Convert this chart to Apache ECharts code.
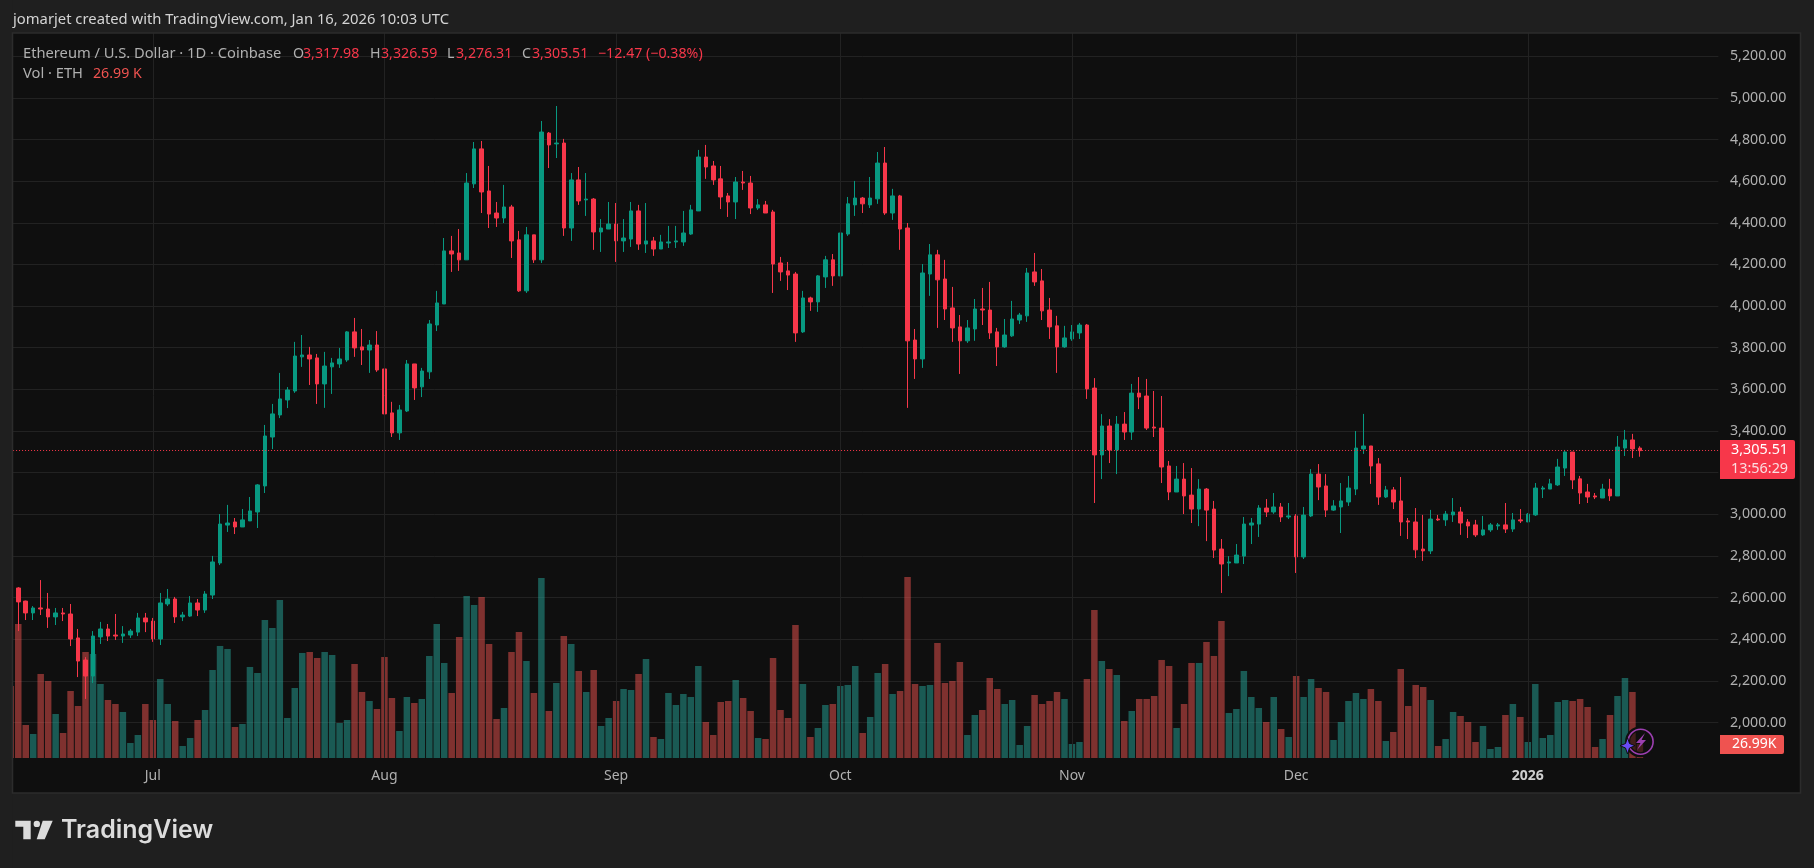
<!DOCTYPE html>
<html><head><meta charset="utf-8">
<style>html,body{margin:0;padding:0;background:#1f1f1f;overflow:hidden}#c{width:1814px;height:868px}</style>
<script src="https://cdn.jsdelivr.net/npm/echarts@6/dist/echarts.min.js"></script>
</head><body><div id="c"></div>
<script>
// [open, close, low, high] in USD, one row per day from 2025-06-12
const candles = [
[2776,2641,2630,2785],[2646,2579,2439,2650],[2583,2526,2492,2585],[2526,2550,2492,2559],[2550,2545,2516,2684],[2545,2507,2454,2622],[2507,2526,2468,2550],[2526,2521,2487,2550],[2521,2401,2367,2569],[2406,2295,2218,2449],
[2300,2223,2113,2314],[2223,2415,2190,2439],[2411,2449,2377,2483],[2449,2415,2391,2473],[2420,2415,2396,2521],[2415,2425,2382,2463],[2420,2439,2406,2449],[2434,2502,2415,2526],[2502,2483,2434,2526],[2487,2401,2387,2502],
[2401,2574,2372,2622],[2569,2593,2559,2641],[2593,2507,2478,2603],[2507,2516,2487,2531],[2511,2574,2507,2607],[2574,2540,2511,2593],[2540,2617,2526,2631],[2612,2771,2593,2800],[2766,2953,2756,3001],[2948,2958,2915,3045],
[2963,2939,2905,2982],[2939,2973,2939,3025],[2968,3016,2968,3083],[3011,3141,2934,3145],[3136,3376,3102,3429],[3371,3482,3313,3530],[3477,3554,3462,3679],[3549,3597,3510,3611],[3592,3760,3583,3828],[3756,3765,3708,3861],
[3765,3746,3621,3804],[3751,3626,3530,3770],[3626,3712,3511,3780],[3708,3727,3578,3751],[3722,3746,3703,3799],[3741,3876,3732,3880],[3876,3799,3756,3943],[3804,3789,3717,3890],[3789,3813,3679,3837],[3813,3693,3684,3880],
[3698,3482,3434,3727],[3487,3391,3371,3540],[3391,3501,3357,3525],[3496,3722,3491,3741],[3722,3607,3549,3722],[3612,3688,3563,3703],[3684,3914,3650,3933],[3909,4015,3880,4073],[4010,4265,4010,4327],[4265,4250,4164,4337],
[4255,4222,4169,4370],[4222,4591,4222,4639],[4587,4755,4567,4788],[4755,4548,4447,4793],[4553,4442,4375,4673],[4447,4423,4380,4500],[4423,4476,4399,4582],[4476,4313,4231,4486],[4318,4073,4068,4361],[4073,4342,4063,4380],
[4342,4222,4207,4342],[4222,4836,4207,4889],[4831,4774,4663,4836],[4779,4783,4711,4961],[4783,4375,4337,4803],[4375,4606,4313,4639],[4606,4505,4486,4668],[4510,4514,4433,4639],[4514,4356,4270,4519],[4356,4375,4260,4418],
[4370,4394,4370,4500],[4394,4313,4212,4495],[4313,4327,4260,4418],[4322,4457,4284,4500],[4457,4298,4270,4486],[4298,4313,4255,4495],[4313,4274,4241,4332],[4274,4308,4274,4342],[4303,4308,4279,4385],[4308,4313,4279,4385],
[4308,4351,4289,4457],[4346,4462,4342,4486],[4457,4716,4457,4750],[4716,4668,4611,4774],[4673,4606,4582,4697],[4611,4524,4466,4673],[4529,4500,4428,4543],[4500,4596,4418,4620],[4596,4591,4558,4649],[4591,4471,4442,4625],
[4471,4486,4462,4514],[4486,4447,4447,4505],[4452,4202,4063,4462],[4207,4164,4121,4236],[4169,4149,4077,4212],[4154,3871,3828,4164],[3876,4039,3871,4073],[4039,4020,3977,4045],[4020,4145,3972,4149],[4140,4222,4087,4241],
[4222,4145,4097,4250],[4145,4351,4126,4361],[4346,4491,4337,4524],[4486,4519,4433,4601],[4519,4491,4447,4524],[4486,4519,4471,4620],[4515,4687,4491,4740],[4687,4447,4438,4764],[4447,4529,4414,4563],[4529,4370,4270,4534],
[4375,3833,3511,4399],[3837,3746,3650,3890],[3746,4159,3703,4202],[4154,4246,4049,4298],[4246,4126,3895,4270],[4130,3986,3933,4222],[3991,3895,3828,4092],[3900,3833,3674,3957],[3833,3895,3823,3933],[3890,3986,3833,4034],
[3986,3981,3909,4087],[3981,3871,3842,4116],[3876,3804,3712,3895],[3804,3861,3799,3938],[3857,3938,3852,4025],[3933,3957,3914,3967],[3953,4159,3924,4183],[4164,4116,4097,4255],[4121,3977,3933,4178],[3981,3900,3842,4039],
[3905,3804,3679,3953],[3804,3847,3799,3905],[3842,3876,3833,3909],[3871,3909,3842,3919],[3909,3602,3554,3914],[3606,3285,3054,3654],[3285,3424,3169,3481],[3424,3309,3246,3457],[3309,3433,3193,3472],[3433,3395,3357,3491],
[3395,3582,3357,3626],[3582,3563,3505,3659],[3568,3414,3405,3650],[3419,3414,3371,3592],[3414,3227,3150,3568],[3232,3107,3068,3256],[3107,3169,3107,3232],[3169,3088,3001,3246],[3092,3025,2958,3222],[3025,3121,2943,3169],
[3121,3020,2871,3126],[3025,2828,2790,3064],[2833,2761,2622,2881],[2766,2771,2703,2799],[2766,2804,2766,2857],[2799,2953,2761,2987],[2948,2958,2857,2982],[2953,3030,2891,3044],[3030,3011,2987,3073],[3011,3035,3002,3102],
[3035,2987,2963,3054],[2987,2992,2977,3054],[2992,2795,2718,3001],[2795,2996,2785,3035],[2992,3193,2987,3217],[3193,3131,3068,3241],[3136,3020,2987,3193],[3020,3040,3016,3068],[3035,3064,2910,3150],[3059,3126,3040,3184],
[3121,3318,3092,3400],[3314,3328,3290,3482],[3328,3232,3146,3328],[3242,3083,3045,3270],[3083,3117,3078,3136],[3117,3059,3025,3131],[3064,2963,2896,3179],[2968,2963,2881,2982],[2963,2829,2790,3030],[2833,2824,2776,2997],
[2824,2977,2809,3021],[2977,2973,2968,2997],[2973,3001,2944,3016],[2997,3011,2963,3078],[3011,2958,2901,3035],[2963,2944,2886,2977],[2949,2901,2891,2973],[2901,2925,2896,2992],[2925,2949,2915,2958],[2944,2949,2925,2958],
[2949,2929,2910,3054],[2929,2973,2915,3006],[2973,2968,2958,3025],[2963,3001,2963,3006],[2997,3126,2992,3150],[3121,3126,3078,3136],[3121,3146,3121,3170],[3141,3227,3136,3266],[3222,3299,3184,3309],[3299,3165,3121,3299],
[3170,3102,3049,3184],[3107,3083,3054,3146],[3088,3083,3073,3102],[3078,3121,3078,3146],[3121,3088,3064,3170],[3088,3323,3088,3376],[3318,3357,3280,3405],[3357,3314,3270,3386],[3317.98,3305.51,3276.31,3326.59]
];
// daily volume in thousands of ETH, same days as candles
const volumes = [138.8,258.4,63.6,46.3,162,148.5,84.8,48.2,129.2,100.3,204.4,200.5,142.7,111.8,104.1,88.7,28.9,44.3,104.1,73.3,152.3,104.1,71.3,23.1,38.6,73.3,92.5,169.7,216,210.2,59.8,65.6,175.5,163.9,266.1,250.7,304.6,77.1,135,202.5,204.4,192.8,204.4,198.6,67.5,73.3,181.2,127.3,109.9,94.5,194.7,115.7,52.1,117.6,106,113.8,196.7,258.4,183.2,125.3,233.3,312.4,295,310.4,219.8,75.2,96.4,204.4,242.9,187,125.3,347,90.6,144.6,235.2,219.8,167.7,127.3,169.7,61.7,77.1,109.9,133,131.1,162,190.9,40.5,36.6,125.3,102.2,123.4,117.6,177.4,69.4,44.3,108,109.9,150.4,115.7,90.6,38.6,36.6,192.8,92.5,77.1,256.4,142.7,40.5,57.8,102.2,104.1,138.8,140.8,177.4,48.2,79.1,163.9,181.2,123.4,129.2,349,142.7,138.8,140.8,221.7,144.6,148.5,185.1,44.3,82.9,92.5,154.2,133,104.1,111.8,25.1,61.7,121.5,104.1,109.9,127.3,113.8,27,30.8,152.3,285.4,187,171.6,160,71.3,90.6,113.8,113.8,119.5,189,177.4,57.8,104.1,183.2,183.2,223.7,196.7,264.1,86.8,94.5,167.7,117.6,96.4,69.4,117.6,55.9,40.5,158.1,117.6,152.3,135,127.3,34.7,69.4,109.9,125.3,113.8,133,109.9,32.8,50.1,171.6,100.3,140.8,136.9,111.8,23.1,36.6,88.7,81,69.4,30.8,61.7,17.4,21.2,82.9,104.1,79.1,30.8,142.7,38.6,44.3,108,111.8,109.9,113.8,98.3,21.2,36.6,82.9,119.5,154.2,127.3,26.99];
const timeTicks = {'2025-07-01':'Jul','2025-08-01':'Aug','2025-09-01':'Sep','2025-10-01':'Oct','2025-11-01':'Nov','2025-12-01':'Dec','2026-01-01':'2026'};
const lastPrice = 3305.51;
const futureDays = 10;

const categories = [];
for (let i = 0, t = Date.UTC(2025,5,12); i < candles.length + futureDays; i++, t += 86400000) {
  categories.push(new Date(t).toISOString().slice(0,10));
}
const UP='#089981', DOWN='#f7374a', GRID='#222222', TXT='#b0b0b0', FONT='"Noto Sans", sans-serif';
const BAND=7.473, LEFT=7.06, W=BAND*categories.length;

const volumeBars = volumes.map((v,i)=>({value:v,itemStyle:{color:candles[i][1]<candles[i][0]?'rgba(239,83,80,0.5)':'rgba(38,166,154,0.5)'}}));

function txt(x,y,s,fill,size,extra){return Object.assign({type:'text',x,y,z:120,silent:true,style:{text:s,fill:fill,font:(size||14)+'px '+FONT,textVerticalAlign:'middle',textBaseline:'middle'}},extra||{});}

const graphic=[
 {type:'rect',z:-5,silent:true,shape:{x:13,y:33,width:1787,height:760},style:{fill:'#0f0f0f'}},
 {type:'rect',z:100,silent:true,shape:{x:0,y:0,width:12.5,height:868},style:{fill:'#1f1f1f'}},
 {type:'rect',z:101,silent:true,shape:{x:12.5,y:33,width:1788,height:760},style:{fill:'none',stroke:'#2c2c2c',lineWidth:1.5}},
 txt(13,20,'jomarjet created with TradingView.com, Jan 16, 2026 10:03 UTC','#d4d4d4',14.8),
 txt(23,54,'Ethereum / U.S. Dollar · 1D · Coinbase',TXT,14.7),
 txt(293,54,'O',TXT,14.2),txt(303,54,'3,317.98',DOWN,14.2),
 txt(370,54,'H',TXT,14.2),txt(381,54,'3,326.59',DOWN,14.2),
 txt(447,54,'L',TXT,14.2),txt(456,54,'3,276.31',DOWN,14.2),
 txt(522,54,'C',TXT,14.2),txt(532,54,'3,305.51',DOWN,14.2),
 txt(598,54,'−12.47 (−0.38%)',DOWN,14.2),
 txt(23,74,'Vol · ETH',TXT,14.7),txt(93,74,'26.99 K','#ef5350',14.2),
 // last price tag
 {type:'rect',z:110,silent:true,shape:{x:1720,y:440,width:75,height:39,r:[0,2,2,0]},style:{fill:DOWN}},
 txt(1731,449.5,'3,305.51','#ffffff',14.4),txt(1731,468.5,'13:56:29','#fbdde0',14.4),
 // last volume tag
 {type:'rect',z:110,silent:true,shape:{x:1720,y:735,width:64,height:19,r:[0,2,2,0]},style:{fill:'#ef5350'}},
 txt(1732,744.5,'26.99K','#ffffff',14),
 // status icon
 {type:'circle',z:110,silent:true,shape:{cx:1640.6,cy:741.7,r:13},style:{fill:'none',stroke:'#0f0f0f',lineWidth:5}},
 {type:'circle',z:111,silent:true,shape:{cx:1640.6,cy:741.7,r:12.5},style:{fill:'#0f0f0f',fillOpacity:0.55,stroke:'#9c3fb0',lineWidth:1.6}},
 {type:'polygon',z:112,silent:true,shape:{points:[[1645,733],[1636,743],[1640.5,743],[1637,750],[1646,740],[1641.5,740]]},style:{fill:'#9c3fb0'}},
 {type:'polygon',z:113,silent:true,shape:{points:[[1627.5,737.5],[1629.5,743.5],[1635,745.7],[1629.5,748],[1627.5,754],[1625.5,748],[1620,745.7],[1625.5,743.5]]},style:{fill:'#6a4cf5',stroke:'#0f0f0f',lineWidth:1}},
 // logo
 {type:'polygon',z:120,silent:true,shape:{points:[[15.3,820.7],[30.7,820.7],[30.7,839.3],[23.3,839.3],[23.3,826.7],[15.3,826.7]]},style:{fill:'#dcdcdc'}},
 {type:'circle',z:120,silent:true,shape:{cx:36.8,cy:823.9,r:3.2},style:{fill:'#dcdcdc'}},
 {type:'polygon',z:120,silent:true,shape:{points:[[42.7,820.7],[52.7,820.7],[44.7,839.3],[36.7,839.3]]},style:{fill:'#dcdcdc'}},
 txt(61,830,'TradingView','#dcdcdc',25,{style:{text:'TradingView',fill:'#dcdcdc',font:'600 25px Inter, sans-serif',textVerticalAlign:'middle',textBaseline:'middle'}})
];

const option={
 animation:false,
 backgroundColor:'#1f1f1f',
 graphic:{elements:graphic},
 grid:[
  {left:LEFT,top:14.6,width:W,height:749.5},
  {left:LEFT,top:560,width:W,height:198}
 ],
 xAxis:[
  {type:'category',gridIndex:0,data:categories,boundaryGap:true,axisLine:{show:false},axisTick:{show:false},splitLine:{show:false},
   axisLabel:{interval:(i,v)=>v in timeTicks,margin:5,color:TXT,fontFamily:FONT,fontSize:14,
     formatter:v=>timeTicks[v]==='2026'?'{b|2026}':(timeTicks[v]||''),rich:{b:{fontWeight:'bold',color:'#cfcfcf',fontFamily:FONT,fontSize:14}}}},
  {type:'category',gridIndex:1,data:categories,boundaryGap:true,show:false}
 ],
 yAxis:[
  {type:'value',gridIndex:0,position:'right',min:1800,max:5400,interval:200,scale:true,
   axisLine:{show:false},axisTick:{show:false},
   splitLine:{show:true,showMinLine:false,showMaxLine:false,lineStyle:{color:GRID,width:1}},
   axisLabel:{showMinLabel:false,showMaxLabel:false,margin:11.6,color:TXT,fontFamily:FONT,fontSize:14.2,align:'left',
     formatter:v=>v.toLocaleString('en-US',{minimumFractionDigits:2,maximumFractionDigits:2})}},
  {type:'value',gridIndex:1,min:0,max:381.7,show:false,splitLine:{show:false}}
 ],
 series:[
  {type:'line',xAxisIndex:0,yAxisIndex:0,z:0,silent:true,data:[],showSymbol:false,
   markLine:{silent:true,symbol:'none',animation:false,label:{show:false},lineStyle:{color:GRID,type:'solid',width:1},
    data:Object.keys(timeTicks).map(d=>[{xAxis:d,yAxis:1830},{xAxis:d,yAxis:5311}])}},
  {type:'bar',name:'Vol',xAxisIndex:1,yAxisIndex:1,z:1,barWidth:6.5,data:volumeBars,silent:true},
  {type:'candlestick',name:'ETHUSD',xAxisIndex:0,yAxisIndex:0,z:3,barWidth:4,data:candles,silent:true,
   itemStyle:{color:UP,color0:DOWN,borderColor:UP,borderColor0:DOWN,borderWidth:1},
   markLine:{silent:true,symbol:'none',animation:false,label:{show:false},lineStyle:{color:DOWN,type:[1,2],width:1.2},data:[{yAxis:lastPrice}]}}
 ]
};
const chart=echarts.init(document.getElementById('c'),null,{renderer:'canvas',width:1814,height:868});
chart.setOption(option);
</script></body></html>
